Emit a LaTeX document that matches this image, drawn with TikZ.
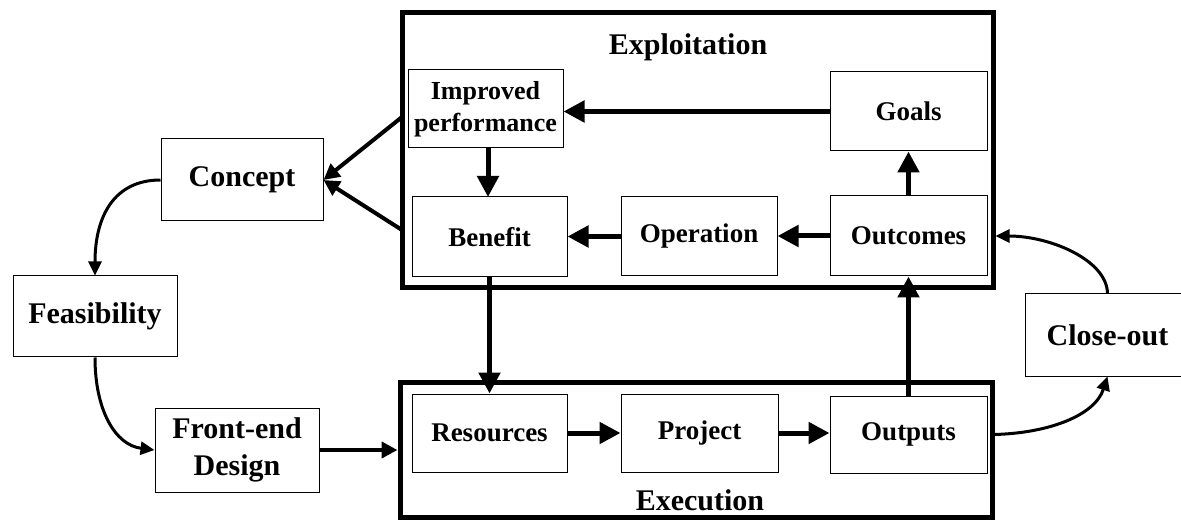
\documentclass[tikz,border=0pt]{standalone}
\usepackage{fontspec}
\setmainfont{Liberation Serif}
\usetikzlibrary{arrows.meta}
\begin{document}
\begin{tikzpicture}[x=1pt,y=-1pt,
  box/.style={draw, line width=1pt, inner sep=0pt, align=center, fill=white,
    font=\bfseries\fontsize{27}{30}\selectfont},
  bigbox/.style={box, font=\bfseries\fontsize{30}{37}\selectfont},
  frame/.style={draw, line width=5pt, inner sep=0pt},
  lbl/.style={inner sep=0pt, font=\bfseries\fontsize{30}{34}\selectfont},
  tarr/.style={line width=5pt, -{Triangle[length=21pt,width=21pt]}},
  marr/.style={line width=4pt, -{Triangle[length=16pt,width=16pt]}},
  carr/.style={line width=3pt, -{Triangle[length=14pt,width=13pt]}}]
\useasboundingbox (0,0) rectangle (1181,521);
\fill[white] (0,0) rectangle (1181,521);
% frames
\node[frame, minimum width=591pt, minimum height=275pt] (expl) at (697.5,150.5) {};
\node[frame, minimum width=592pt, minimum height=135pt] (exec) at (696,449.5) {};
\node[lbl] (explL) at (688,47) {Exploitation};
\node[lbl] (execL) at (700,500) {Execution};
% inner boxes
\node[box, minimum width=155pt, minimum height=78pt, font=\bfseries\fontsize{26}{32}\selectfont] (imp) at (485.5,109) {Improved\\performance};
\node[box, minimum width=155pt, minimum height=80pt] (ben) at (489.5,237) {Benefit};
\node[box, minimum width=156pt, minimum height=79pt] (op) at (699,236.5) {Operation};
\node[box, minimum width=157pt, minimum height=79pt] (goals) at (908.5,111.5) {Goals};
\node[box, minimum width=157pt, minimum height=80pt] (outc) at (908.5,236) {Outcomes};
\node[box, minimum width=155pt, minimum height=78pt] (res) at (489.5,433) {Resources};
\node[box, minimum width=157pt, minimum height=78pt] (proj) at (699.5,433) {Project};
\node[box, minimum width=157pt, minimum height=77pt] (outp) at (908.5,434.5) {Outputs};
% outer boxes
\node[bigbox, minimum width=162pt, minimum height=82pt] (concept) at (242,180) {Concept};
\node[bigbox, minimum width=164pt, minimum height=81pt] (feas) at (95,316.5) {Feasibility};
\node[bigbox, minimum width=164pt, minimum height=84pt] (fed) at (237,450) {Front-end\\Design};
\node[bigbox, minimum width=165pt, minimum height=82pt] (close) at (1107.5,335) {Close-out};
% coordinates
\coordinate (a1) at (402,117);
\coordinate (a2) at (402,230);
\coordinate (o1) at (exec.east |- outp.east);
\coordinate (o2) at (expl.east |- outc.east);
\coordinate (f1) at (exec.west |- fed.east);
% arrows inside
\draw[tarr] (goals.west) -- (goals.west -| imp.east);
\draw[tarr] (488,148) -- (488,197);
\draw[tarr] (op.west) -- (op.west -| ben.east);
\draw[tarr] (outc.west) -- (outc.west -| op.east);
\draw[tarr] (outc.north) -- (goals.south);
\draw[tarr] (ben.south) -- (ben.south |- res.north);
\draw[tarr] (outp.north) -- (outc.south);
\draw[tarr] (res.east) -- (res.east -| proj.west);
\draw[tarr] (proj.east) -- (proj.east -| outp.west);
% arrows outside
\draw[marr] (fed.east) -- (f1);
\draw[marr] (a1) -- (concept.east);
\draw[marr] (a2) -- (concept.east);
\draw[carr] (concept.west) .. controls (115,180) and (95,215) .. (feas.north);
\draw[carr] (feas.south) .. controls (95,410) and (115,445) .. (fed.west);
\draw[carr] (o1) .. controls (1050,433) and (1095,415) .. (close.south);
\draw[carr] (close.north) .. controls (1107,260) and (1050,236) .. (o2);
\end{tikzpicture}
\end{document}
